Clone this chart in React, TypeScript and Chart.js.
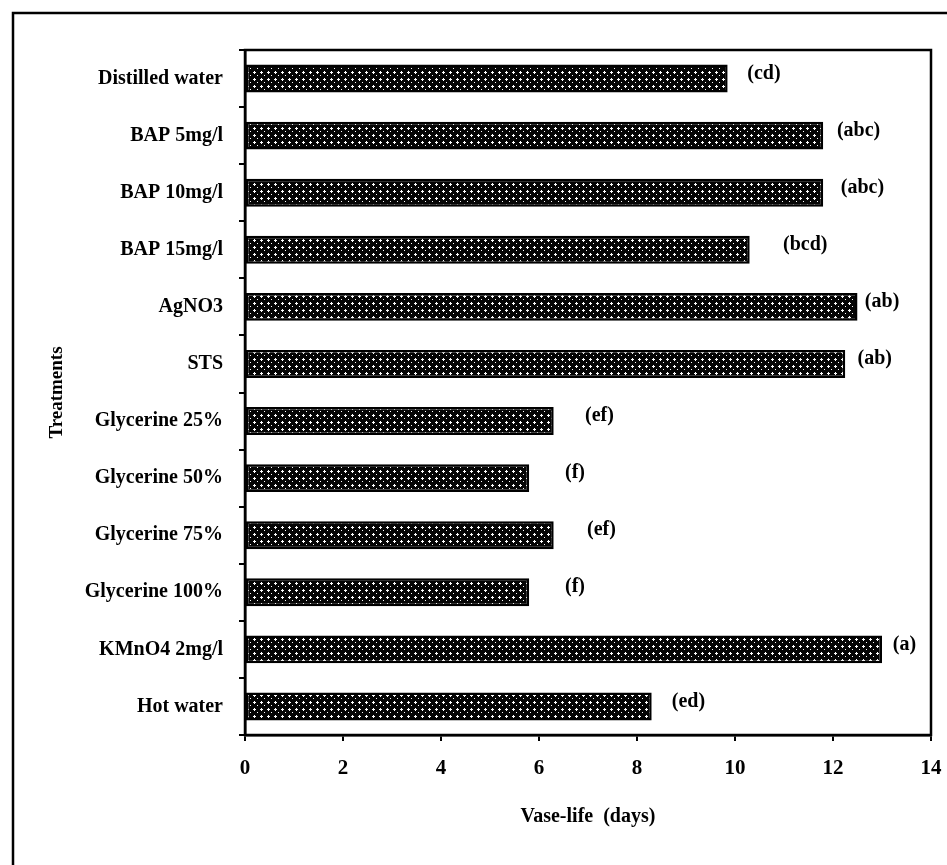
import React, { useEffect, useRef } from "react";
import { Chart, registerables } from "chart.js";

Chart.register(...registerables);

const categories = [
  "Distilled water",
  "BAP 5mg/l",
  "BAP 10mg/l",
  "BAP 15mg/l",
  "AgNO3",
  "STS",
  "Glycerine 25%",
  "Glycerine 50%",
  "Glycerine 75%",
  "Glycerine 100%",
  "KMnO4 2mg/l",
  "Hot water",
];
const vaseLife = [9.85, 11.8, 11.8, 10.3, 12.5, 12.25, 6.3, 5.8, 6.3, 5.8, 13.0, 8.3];
const letters = ["(cd)", "(abc)", "(abc)", "(bcd)", "(ab)", "(ab)", "(ef)", "(f)", "(ef)", "(f)", "(a)", "(ed)"];
const letterX = [10.25, 12.08, 12.16, 10.98, 12.65, 12.5, 6.94, 6.53, 6.98, 6.53, 13.22, 8.71];
const xTicks = [0, 2, 4, 6, 8, 10, 12, 14];

const FONT = '"Liberation Serif", "DejaVu Serif", serif';

function makePattern(): CanvasPattern | string {
  const c = document.createElement("canvas");
  c.width = 7;
  c.height = 7;
  const g = c.getContext("2d");
  if (!g) return "#222";
  g.fillStyle = "#050505";
  g.fillRect(0, 0, 7, 7);
  g.fillStyle = "#ffffff";
  const plus = (cx: number, cy: number) => {
    g.fillRect(cx, cy - 1, 1, 3);
    g.fillRect(cx - 1, cy, 3, 1);
  };
  plus(2, 2);
  g.fillRect(5, 5, 1, 1);
  const p = g.createPattern(c, "repeat");
  return p || "#222";
}

const framePlugin = {
  id: "frame",
  beforeDraw(chart: any) {
    const ctx = chart.ctx;
    ctx.save();
    ctx.strokeStyle = "#000";
    ctx.lineWidth = 2.5;
    ctx.strokeRect(13, 13, 980, 900);
    ctx.restore();
  },
  afterDraw(chart: any) {
    const ctx = chart.ctx;
    const a = chart.chartArea;
    ctx.save();
    ctx.strokeStyle = "#000";
    ctx.lineWidth = 2.5;
    ctx.strokeRect(a.left, a.top, a.right - a.left, a.bottom - a.top);
    const xs = chart.scales.x;
    const ys = chart.scales.y;
    ctx.fillStyle = "#000";
    ctx.font = `bold 20px ${FONT}`;
    ctx.textAlign = "left";
    ctx.textBaseline = "middle";
    letters.forEach((t, i) => {
      const x = xs.getPixelForValue(letterX[i]);
      const y = ys.getPixelForValue(i) - 5;
      ctx.fillText(t, x, y);
    });
    ctx.restore();
  },
};

export default function App() {
  const ref = useRef<HTMLCanvasElement | null>(null);
  useEffect(() => {
    if (!ref.current) return;
    const pattern = makePattern();
    const chart = new Chart(ref.current, {
      type: "bar",
      data: {
        labels: categories,
        datasets: [
          {
            data: vaseLife,
            backgroundColor: pattern as any,
            borderColor: "#000",
            borderWidth: 2.5,
            borderSkipped: false,
            barPercentage: 0.49,
            categoryPercentage: 1,
          },
        ],
      },
      options: {
        indexAxis: "y",
        responsive: false,
        animation: false,
        devicePixelRatio: 1,
        layout: { padding: { top: 50, right: 16, bottom: 0, left: 0 } },
        plugins: { legend: { display: false }, tooltip: { enabled: false } },
        scales: {
          x: {
            type: "linear",
            min: 0,
            max: 14,
            afterBuildTicks: (s: any) => {
              s.ticks = xTicks.map((v) => ({ value: v }));
            },
            ticks: {
              color: "#000",
              padding: 15,
              font: { family: FONT, size: 21, weight: "bold" },
            },
            grid: { drawOnChartArea: false, color: "#000", lineWidth: 2, tickLength: 6 },
            border: { color: "#000", width: 2.5 },
            title: {
              display: true,
              text: "Vase-life  (days)",
              color: "#000",
              font: { family: FONT, size: 20, weight: "bold" },
              padding: { top: 0, bottom: 36 },
            },
            afterFit: (s: any) => {
              s.height = 130;
              s.paddingLeft = 0;
              s.paddingRight = 0;
            },
          },
          y: {
            type: "category",
            ticks: {
              color: "#000",
              padding: 16,
              font: { family: FONT, size: 20, weight: "bold" },
            },
            grid: {
              offset: true,
              drawOnChartArea: false,
              color: "#000",
              lineWidth: 2,
              tickLength: 6,
            },
            border: { color: "#000", width: 2.5 },
            title: {
              display: true,
              text: "Treatments",
              color: "#000",
              font: { family: FONT, size: 19, weight: "bold" },
              padding: { top: 46, bottom: 0 },
            },
            afterFit: (s: any) => {
              s.width = 245;
              s.paddingTop = 0;
              s.paddingBottom = 0;
            },
          },
        },
      } as any,
      plugins: [framePlugin],
    });
    return () => chart.destroy();
  }, []);
  return (
    <div style={{ position: "fixed", left: 0, top: 0, width: 947, height: 865, background: "#fff" }}>
      <canvas ref={ref} width={947} height={865} style={{ display: "block" }} />
    </div>
  );
}
